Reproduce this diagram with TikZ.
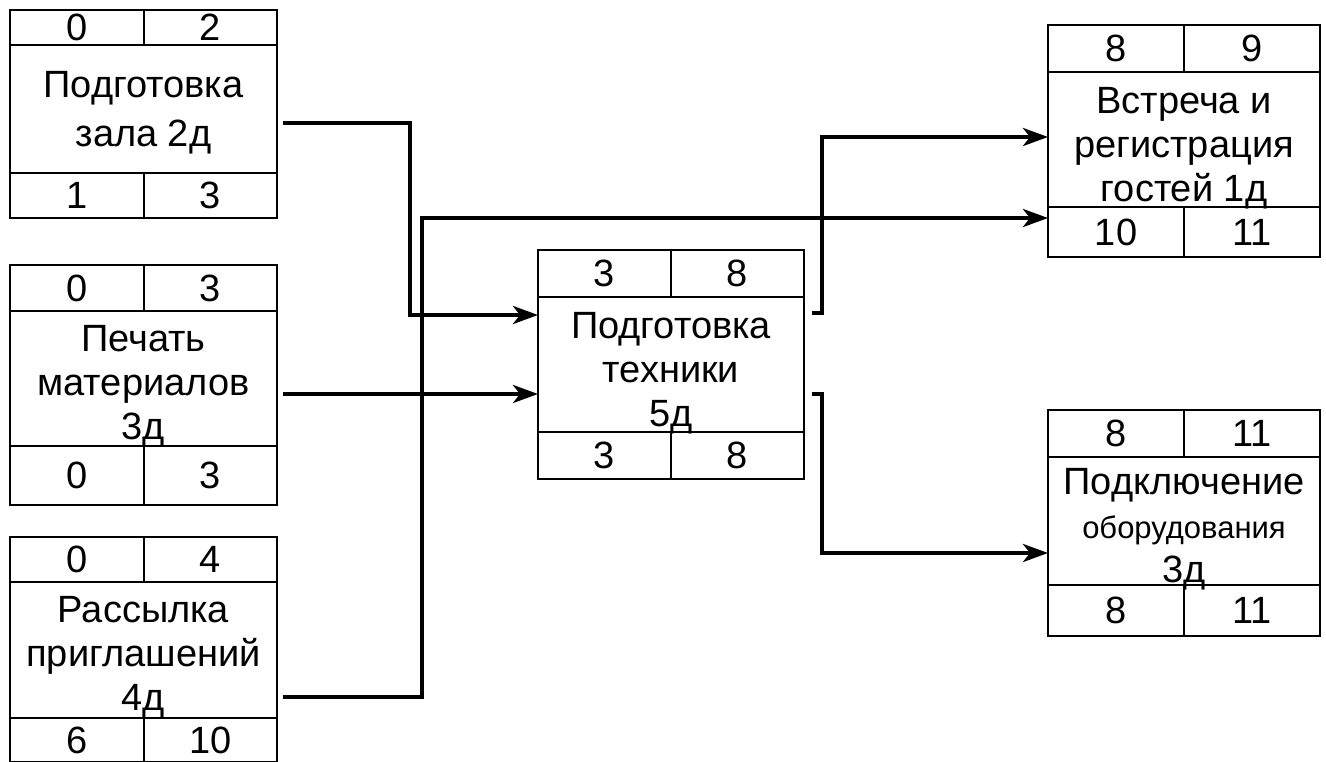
\documentclass[tikz,border=0pt]{standalone}
\usepackage{fontspec}
\setmainfont{Liberation Sans}
\usetikzlibrary{arrows.meta,positioning,calc}

\begin{document}
\begin{tikzpicture}[
    x=1pt, y=-1pt,
    every node/.style={font=\fontsize{38}{44}\selectfont, inner sep=0pt, outer sep=0pt},
    cell/.style={draw, line width=2pt, minimum width=133.5pt, anchor=north west},
    body/.style={draw, line width=2pt, minimum width=267pt, align=center, text depth=0pt, anchor=north west},
    link/.style={line width=4pt, -{Stealth[length=25pt, width=18pt, inset=7pt]}},
]
\useasboundingbox[fill=white] (0,0) rectangle (1326,761);

% Подготовка зала
\node[cell, minimum height=35] (zal-es) at (10,10) {0};
\node[cell, minimum height=35, right=0pt of zal-es] (zal-ef) {2};
\node[body, minimum height=128, font=\fontsize{38}{49}\selectfont, below right=0pt of zal-es.south west] (zal) {Подготовка\\зала 2д};
\node[cell, minimum height=45, below right=0pt of zal.south west] (zal-ls) {1};
\node[cell, minimum height=45, right=0pt of zal-ls] (zal-lf) {3};

% Печать материалов
\node[cell, minimum height=46] (pech-es) at (10,265) {0};
\node[cell, minimum height=46, right=0pt of pech-es] (pech-ef) {3};
\node[body, minimum height=135, below right=0pt of pech-es.south west] (pech) {\rule{0pt}{34pt}Печать\\материалов\\3д};
\node[cell, minimum height=59, below right=0pt of pech.south west] (pech-ls) {0};
\node[cell, minimum height=59, right=0pt of pech-ls] (pech-lf) {3};

% Рассылка приглашений
\node[cell, minimum height=45] (rass-es) at (10,537) {0};
\node[cell, minimum height=45, right=0pt of rass-es] (rass-ef) {4};
\node[body, minimum height=136, below right=0pt of rass-es.south west] (rass) {\rule{0pt}{32pt}Рассылка\\приглашений\\4д};
\node[cell, minimum height=44, below right=0pt of rass.south west] (rass-ls) {6};
\node[cell, minimum height=44, right=0pt of rass-ls] (rass-lf) {10};

% Подготовка техники
\node[cell, minimum width=133, minimum height=47] (tech-es) at (538,250) {3};
\node[cell, minimum width=133, minimum height=47, right=0pt of tech-es] (tech-ef) {8};
\node[body, minimum width=266, minimum height=135, below right=0pt of tech-es.south west] (tech) {\rule{0pt}{36pt}Подготовка\\техники\\5д};
\node[cell, minimum width=133, minimum height=47, below right=0pt of tech.south west] (tech-ls) {3};
\node[cell, minimum width=133, minimum height=47, right=0pt of tech-ls] (tech-lf) {8};

% Встреча и регистрация гостей
\node[cell, minimum width=136, minimum height=47] (vstr-es) at (1048,25) {8};
\node[cell, minimum width=136, minimum height=47, right=0pt of vstr-es] (vstr-ef) {9};
\node[body, minimum width=272, minimum height=135, below right=0pt of vstr-es.south west] (vstr) {\rule{0pt}{36pt}Встреча и\\регистрация\\гостей 1д};
\node[cell, minimum width=136, minimum height=50, below right=0pt of vstr.south west] (vstr-ls) {10};
\node[cell, minimum width=136, minimum height=50, right=0pt of vstr-ls] (vstr-lf) {11};

% Подключение оборудования
\node[cell, minimum width=136, minimum height=47] (podk-es) at (1048,410) {8};
\node[cell, minimum width=136, minimum height=47, right=0pt of podk-es] (podk-ef) {11};
\node[body, minimum width=272, minimum height=128, below right=0pt of podk-es.south west] (podk) {\rule{0pt}{35pt}Подключение\\{\fontsize{31}{44}\selectfont оборудования}\\3д};
\node[cell, minimum width=136, minimum height=51, below right=0pt of podk.south west] (podk-ls) {8};
\node[cell, minimum width=136, minimum height=51, right=0pt of podk-ls] (podk-lf) {11};

% entry points
\coordinate (tech-in1) at ([yshift=49.5pt]tech.west);
\coordinate (tech-in2) at ([yshift=-29.5pt]tech.west);
\coordinate (vstr-in1) at ([yshift=2.5pt]vstr.west);
\coordinate (vstr-in2) at ([yshift=14pt]vstr-ls.west);
\coordinate (podk-in) at ([yshift=-32pt]podk.west);

% arrows
\draw[link] ([xshift=6pt,yshift=-14pt]zal.east) -| ([xshift=-128pt]tech-in1) -- (tech-in1);
\draw[link] ($(pech.east |- tech-in2)+(6,0)$) -- (tech-in2);
\draw[link] ([xshift=6pt,yshift=-47pt]rass.east) -| ([xshift=-626pt]vstr-in2) -- (vstr-in2);
\draw[link] ([xshift=8pt,yshift=51.5pt]tech.east) -| ([xshift=-226pt]vstr-in1) -- (vstr-in1);
\draw[link] ([xshift=8pt,yshift=-29pt]tech.east) -| ([xshift=-226pt]podk-in) -- (podk-in);

\end{tikzpicture}
\end{document}
